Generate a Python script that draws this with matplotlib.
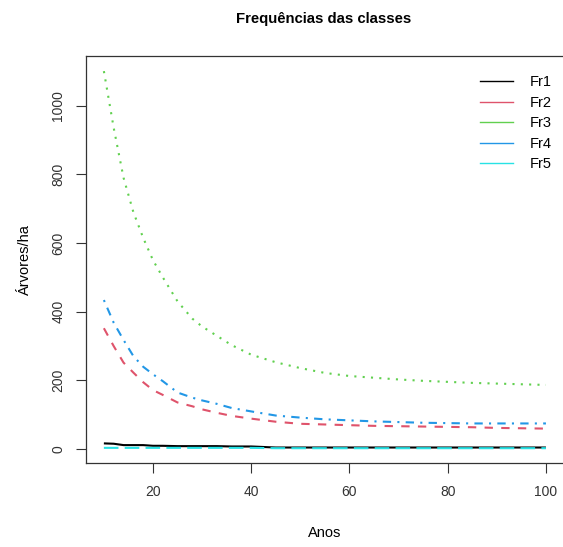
import matplotlib
matplotlib.use("Agg")
import matplotlib.pyplot as plt

plt.rcParams["font.family"] = ["Liberation Sans", "DejaVu Sans"]

# tree counts per class over the years
anos = [10, 12, 14, 16, 18, 20, 22, 25, 28, 30, 33, 36, 40, 45, 50,
        55, 60, 65, 70, 75, 80, 85, 90, 95, 100]
fr1 = [17, 16, 12, 12, 12, 10, 10, 9, 9, 9, 9, 8, 8, 5, 5,
       5, 5, 5, 5, 5, 5, 5, 5, 5, 5]
fr2 = [352, 300, 252, 223, 195, 172, 158, 136, 125, 116, 106, 97, 89, 80, 74,
       72, 70, 68, 67, 66, 65, 64, 62, 61, 60]
fr3 = [1100, 935, 790, 690, 615, 550, 500, 430, 380, 357, 330, 303, 275, 253, 236,
       222, 213, 208, 203, 199, 196, 193, 191, 189, 187]
fr4 = [434, 368, 318, 271, 240, 218, 198, 165, 150, 142, 132, 120, 110, 98, 92,
       87, 84, 81, 79, 77, 76, 75, 75, 75, 75]
fr5 = [4, 4, 4, 4, 4, 4, 4, 4, 4, 4, 4, 4, 4, 3, 3,
       3, 3, 3, 3, 3, 3, 3, 3, 3, 3]
nomes = ["Fr1", "Fr2", "Fr3", "Fr4", "Fr5"]

cores = ["black", "#DF536B", "#61D04F", "#2297E6", "#28E2E5"]
tracos = [None, (4, 4), (1, 3), (1, 3, 4, 3), (7, 3)]

fig = plt.figure(figsize=(5.63, 5.47), dpi=100)
ax = fig.add_axes([0.1531, 0.1536, 0.848, 0.744])

for serie, cor, traco in zip([fr1, fr2, fr3, fr4, fr5], cores, tracos):
    linha, = ax.plot(anos, serie, color=cor, linewidth=1.5,
                     solid_capstyle="butt", dash_capstyle="butt")
    if traco is not None:
        linha.set_dashes(traco)

ax.set_xlim(6.4, 103.6)
ax.set_ylim(-40, 1144)
ax.set_xticks([20, 40, 60, 80, 100])
ax.set_yticks([0, 200, 400, 600, 800, 1000])
ax.tick_params(direction="out", length=7, width=0.8, labelsize=10,
               colors="#333333", pad=8)
ax.tick_params(axis="x", pad=9)
for lbl in ax.get_yticklabels():
    lbl.set_rotation(90)
    lbl.set_va("center")
for sp in ax.spines.values():
    sp.set_linewidth(0.9)
    sp.set_color("#333333")

ax.set_xlabel("Anos", fontsize=10.5, labelpad=19)
ax.set_ylabel("Árvores/ha", fontsize=10.5, labelpad=14)
fig.suptitle("Frequências das classes", fontsize=10.7, fontweight="bold", x=0.575, y=0.978)

# legend without box, thin handles
handles = [plt.Line2D([], [], color=c, linewidth=1) for c in cores]
ax.legend(handles, nomes, loc="upper right", frameon=False, fontsize=10.5,
          handlelength=2.3, handletextpad=1.1, labelspacing=0.45,
          bbox_to_anchor=(1.002, 0.985))

fig.savefig("out.png", dpi=100)
